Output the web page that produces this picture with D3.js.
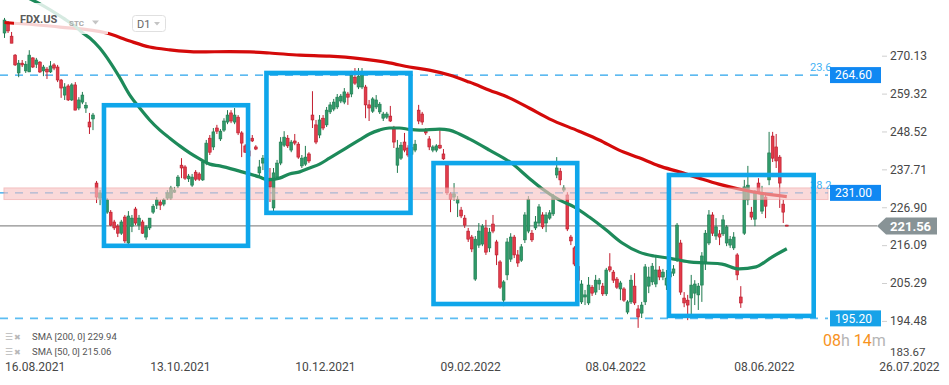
<!DOCTYPE html>
<html>
<head>
<meta charset="utf-8">
<script src="https://cdn.jsdelivr.net/npm/d3@7"></script>
<style>
  body { margin: 0; background: #fff; }
  svg { display: block; font-family: Roboto, "Noto Sans", sans-serif; }
</style>
</head>
<body>
<svg id="chart" width="949" height="385"></svg>
<script>
// daily candles FDX.US, 16.08.2021 onwards
var opens = [
  276.6, 279.4, 275.7, 270.3, 265.2, 268.0, 265.8, 265.5, 269.5, 267.7,
  268.3, 265.8, 266.3, 265.5, 267.5, 266.9, 263.2, 258.9, 261.5, 257.5,
  261.8, 255.2, 256.9, 255.2, 251.2, 252.1, 233.8, 229.5, 229.6, 225.5,
  225.5, 222.7, 221.5, 219.5, 224.1, 216.7, 221.5, 226.4, 221.8, 222.7,
  218.4, 221.0, 225.5, 227.5, 228.4, 227.8, 229.5, 229.5, 231.2, 233.0,
  238.9, 238.4, 235.0, 233.2, 236.9, 236.4, 234.7, 239.8, 246.6, 244.1,
  249.5, 246.4, 248.9, 251.2, 253.8, 251.2, 252.6, 248.1, 244.4, 243.0,
  246.6, 244.1, 236.7, 239.5, 240.9, 235.2, 226.7, 235.5, 239.5, 244.6,
  246.6, 243.2, 245.8, 244.9, 238.7, 239.2, 242.1, 253.2, 250.4, 247.5,
  252.3, 250.4, 254.1, 254.9, 255.5, 257.2, 256.9, 259.2, 259.2, 264.0,
  261.2, 261.2, 261.2, 256.1, 254.3, 255.5, 254.1, 252.3, 252.6, 252.9,
  249.2, 238.9, 240.9, 245.5, 243.8, 242.0, 243.2, 254.6, 253.5, 248.6,
  246.4, 243.2, 243.2, 244.6, 242.1, 238.9, 230.7, 229.8, 228.1, 226.1,
  223.8, 220.1, 218.4, 206.4, 216.1, 216.4, 221.0, 215.3, 222.1, 217.0,
  211.3, 200.4, 207.6, 212.1, 218.4, 213.3, 211.8, 217.6, 220.1, 219.5,
  221.0, 222.4, 224.7, 222.4, 223.8, 225.0, 236.1, 237.2, 231.8, 230.4,
  218.4, 215.3, 210.0, 199.9, 201.3, 199.6, 204.1, 202.7, 205.0, 204.4,
  202.2, 209.9, 208.4, 206.4, 203.6, 203.6, 197.0, 199.9, 204.4, 197.9,
  196.7, 199.9, 204.4, 205.6, 205.0, 209.0, 207.0, 204.7, 207.0, 208.1,
  211.8, 216.7, 201.0, 200.4, 201.0, 202.4, 201.9, 204.7, 211.3, 216.7,
  224.7, 218.7, 219.3, 219.3, 216.7, 216.1, 215.3, 213.3, 201.3, 219.5,
  229.0, 225.5, 223.5, 233.8, 225.8, 229.8, 234.7, 247.2, 244.1, 241.2,
  227.8, 221.8
];
var highs = [
  280.9, 280.0, 276.9, 270.6, 268.9, 268.9, 268.6, 271.7, 269.7, 269.5,
  268.6, 267.5, 266.9, 268.6, 268.0, 267.5, 263.5, 262.3, 262.0, 262.3,
  262.6, 258.3, 259.8, 256.9, 253.8, 253.8, 234.4, 231.8, 230.5, 229.5,
  226.1, 223.3, 222.1, 223.3, 224.7, 225.8, 224.7, 227.0, 224.7, 223.3,
  221.8, 223.8, 227.8, 229.8, 229.0, 229.5, 231.8, 233.0, 232.7, 236.1,
  240.9, 238.9, 236.4, 236.4, 237.5, 236.9, 240.4, 246.1, 247.5, 249.5,
  250.4, 249.2, 252.3, 254.6, 254.6, 255.2, 253.2, 248.6, 244.9, 245.0,
  247.5, 244.6, 240.4, 241.8, 241.5, 238.1, 238.1, 240.4, 246.9, 248.6,
  247.5, 246.1, 247.8, 245.5, 241.8, 244.4, 242.6, 260.0, 251.8, 253.2,
  253.2, 255.5, 256.9, 257.8, 259.2, 259.2, 260.9, 259.8, 265.8, 266.6,
  266.6, 266.6, 261.8, 257.5, 258.3, 258.9, 256.9, 254.1, 254.1, 255.8,
  250.1, 246.1, 245.5, 248.1, 244.6, 245.0, 246.1, 256.1, 254.1, 249.5,
  247.2, 244.6, 244.9, 248.9, 243.5, 239.5, 231.2, 233.8, 230.1, 227.0,
  224.7, 221.0, 219.0, 218.7, 222.4, 222.1, 223.3, 221.0, 224.7, 217.6,
  211.8, 206.1, 218.1, 219.5, 219.0, 214.7, 216.4, 225.5, 230.1, 220.4,
  224.4, 227.8, 225.5, 225.5, 226.1, 230.7, 241.2, 238.1, 233.2, 231.2,
  219.0, 215.8, 211.0, 206.1, 203.3, 207.0, 204.7, 207.6, 206.7, 205.3,
  209.6, 213.8, 209.0, 207.0, 205.9, 204.1, 200.4, 207.6, 208.1, 199.0,
  199.9, 210.7, 209.9, 211.0, 213.3, 210.1, 209.3, 209.0, 209.5, 210.4,
  222.4, 217.6, 202.7, 201.9, 207.6, 206.1, 205.3, 214.1, 220.4, 226.1,
  225.5, 223.8, 220.4, 224.7, 221.8, 218.7, 219.8, 213.8, 204.4, 234.7,
  238.7, 227.0, 231.8, 235.2, 233.0, 231.0, 248.4, 248.4, 247.8, 241.8,
  229.0, 221.9
];
var lows = [
  275.2, 276.6, 273.7, 267.2, 264.0, 266.9, 265.2, 265.5, 266.6, 266.6,
  265.2, 264.3, 263.5, 265.2, 266.0, 262.6, 258.1, 257.5, 257.2, 257.2,
  254.6, 254.6, 256.3, 253.8, 247.8, 248.9, 228.1, 227.5, 226.0, 225.0,
  221.5, 220.4, 218.4, 219.0, 216.7, 216.4, 219.8, 221.8, 220.4, 219.3,
  217.6, 220.4, 225.0, 226.4, 226.1, 227.2, 229.0, 229.0, 231.0, 232.4,
  235.2, 234.7, 234.1, 232.7, 234.4, 234.4, 234.4, 238.9, 241.8, 243.2,
  247.8, 245.8, 248.4, 250.6, 250.9, 250.6, 247.5, 241.2, 242.4, 240.5,
  245.5, 243.2, 235.2, 237.5, 236.4, 228.4, 225.3, 234.7, 238.9, 244.1,
  243.8, 242.6, 244.6, 240.7, 238.1, 238.7, 239.5, 249.5, 244.9, 246.6,
  248.9, 249.8, 253.5, 254.3, 254.9, 256.6, 256.3, 256.1, 258.3, 261.8,
  260.6, 260.6, 252.3, 251.5, 253.8, 254.9, 253.5, 251.5, 252.1, 251.2,
  243.8, 236.7, 240.4, 242.6, 241.2, 240.5, 242.6, 250.6, 250.4, 247.5,
  243.2, 242.6, 242.6, 243.5, 240.4, 230.4, 225.5, 228.7, 224.1, 223.8,
  221.0, 217.0, 214.1, 205.9, 215.3, 215.8, 213.3, 214.1, 219.5, 210.4,
  203.6, 198.7, 206.1, 211.3, 212.4, 209.9, 211.3, 216.7, 219.5, 217.0,
  220.4, 221.5, 220.7, 219.8, 223.3, 224.4, 235.2, 233.2, 231.2, 220.1,
  216.1, 210.1, 204.5, 199.3, 199.0, 199.0, 201.6, 201.9, 203.3, 201.6,
  201.6, 208.4, 205.3, 203.6, 200.4, 199.9, 196.4, 199.3, 199.0, 192.5,
  195.3, 199.0, 202.4, 204.7, 204.1, 206.1, 206.1, 203.3, 205.5, 207.3,
  211.3, 201.9, 198.4, 194.7, 195.3, 199.0, 197.6, 199.9, 209.0, 216.1,
  218.7, 217.6, 216.1, 218.7, 215.8, 215.3, 214.7, 206.1, 198.2, 219.0,
  227.5, 223.3, 221.5, 230.7, 225.0, 223.8, 233.2, 239.8, 238.1, 226.7,
  222.4, 221.5
];
var closes = [
  280.3, 277.2, 273.7, 267.5, 268.0, 267.5, 267.7, 270.3, 266.9, 268.9,
  265.5, 266.9, 265.5, 267.2, 266.6, 263.2, 260.9, 261.2, 257.5, 261.8,
  254.6, 257.5, 258.9, 256.0, 249.8, 253.2, 229.8, 231.0, 228.0, 229.0,
  221.8, 221.0, 219.5, 222.7, 217.3, 224.4, 223.8, 222.4, 223.8, 219.5,
  221.3, 223.8, 227.2, 229.0, 227.5, 229.0, 231.0, 232.4, 231.8, 235.5,
  238.1, 235.2, 235.8, 235.5, 234.9, 234.9, 239.8, 245.2, 242.6, 248.4,
  248.6, 248.6, 251.5, 253.2, 251.5, 253.2, 248.1, 245.2, 242.6, 241.5,
  245.8, 243.5, 238.4, 240.9, 237.0, 232.7, 236.7, 239.5, 245.5, 246.9,
  244.4, 245.5, 245.2, 241.2, 240.9, 241.2, 240.1, 251.8, 245.5, 251.8,
  249.5, 254.6, 256.1, 256.9, 258.3, 258.6, 259.8, 258.3, 264.6, 262.3,
  264.3, 265.2, 256.1, 255.2, 257.8, 257.5, 256.3, 253.5, 253.5, 251.5,
  245.5, 243.8, 244.6, 243.2, 241.8, 244.0, 244.9, 251.5, 251.2, 248.1,
  244.1, 244.1, 244.4, 243.8, 240.7, 231.0, 229.2, 230.7, 229.2, 224.4,
  221.8, 217.8, 215.0, 217.8, 220.1, 221.5, 214.1, 219.8, 220.1, 213.3,
  204.1, 205.6, 217.0, 218.4, 213.3, 211.0, 215.6, 224.7, 229.2, 217.6,
  222.7, 227.0, 221.3, 224.7, 225.3, 229.8, 238.1, 234.7, 232.4, 220.7,
  217.3, 210.7, 206.0, 205.0, 201.9, 204.7, 202.4, 206.1, 206.1, 202.2,
  209.0, 209.0, 206.1, 204.1, 205.3, 200.4, 199.9, 206.1, 199.6, 195.6,
  199.0, 209.9, 207.0, 210.1, 209.0, 207.0, 208.4, 206.7, 208.5, 209.3,
  221.8, 202.7, 199.6, 199.0, 204.7, 205.0, 204.4, 213.0, 219.5, 224.7,
  219.5, 221.3, 218.4, 223.3, 221.3, 217.8, 218.4, 207.6, 199.6, 232.7,
  233.2, 224.1, 231.0, 231.2, 230.4, 227.2, 242.4, 240.9, 240.1, 233.8,
  225.5, 221.56
];

// moving averages read at bar positions
var sma200Bars = [0, 15.7, 28.9, 35.4, 41, 46.7, 55.1, 63.6, 69.3, 74.9, 83.4, 91.8, 100.3, 108.7, 114.4, 120,
  125.7, 131.3, 137, 142.6, 148.2, 153.9, 162.3, 168, 173.6, 179.3, 184.9, 190.6, 196.2, 201.8, 207.5, 213.1, 221];
var sma200Values = [279.6, 278.3, 276.6, 274.3, 272.6, 271.8, 271.2, 271.3, 271.2, 270.9, 270.3, 270.0, 269.3, 268.1, 266.9, 266.0,
  264.6, 262.6, 260.3, 258.1, 255.2, 252.1, 248.6, 246.1, 243.2, 241.0, 238.7, 237.0, 235.2, 233.5, 232.1, 231.0, 229.94];
var sma50Bars = [4.4, 10, 16.5, 19.9, 22.1, 24.1, 26.9, 29.8, 32.6, 35.4, 38.2, 41, 43.9, 46.7, 49.5, 52.3, 55.1, 58, 60.8,
  66.4, 72.1, 74.3, 77.7, 80.5, 83.4, 86.2, 89, 91.8, 94.6, 97.5, 100.3, 103.1, 105.9, 108.7, 111.6, 114.4, 117.2,
  122.9, 125.7, 128.5, 131.3, 137, 143.2, 148.2, 151.6, 156.7, 160.9, 165.2, 170, 174.5, 179.3, 183.5, 187.7,
  193.4, 198.2, 202.7, 207.5, 212.3, 216.8, 221];
var sma50Values = [287.7, 284.9, 280.9, 278.6, 276.6, 275.2, 272.3, 268.3, 263.8, 258.9, 255.2, 251.8, 248.9, 246.6, 244.4, 242.4, 240.7, 239.2, 238.7,
  237.2, 235.5, 234.7, 235.2, 236.4, 237.0, 238.1, 239.2, 240.9, 242.6, 244.4, 246.1, 247.8, 248.9, 249.5, 249.5, 249.1, 248.9,
  249.2, 248.9, 247.8, 246.4, 243.2, 239.5, 235.2, 232.4, 229.0, 227.0, 224.1, 220.4, 216.7, 214.1, 213.0, 212.4,
  211.3, 211.0, 210.7, 209.3, 209.9, 212.7, 215.06];

var priceTicks = [270.13, 259.32, 248.52, 237.71, 226.90, 216.09, 205.29, 194.48, 183.67];
var dateBars = [0, 41, 82, 123, 164, 206, 247];
var dateLabels = ['16.08.2021', '13.10.2021', '10.12.2021', '09.02.2022', '08.04.2022', '08.06.2022', '26.07.2022'];

var levelValues = [264.60, 231.00, 195.20];
var levelFibs = ['23.6', '38.2', ''];
var bandLow = 229.1, bandHigh = 232.4;
var lastPrice = 221.56;

// boxes: [first bar, last bar, top price, bottom price]
var boxes = [
  [28.1, 68.8, 256.0, 215.9],
  [74.0, 114.7, 265.2, 225.3],
  [121.2, 161.8, 239.5, 199.3],
  [187.7, 228.6, 236.1, 195.9]
];

var legendLabels = ['SMA [200,  0] 229.94', 'SMA [50,  0] 215.06'];

(function () {
    var PLOT_RIGHT = 828, AXIS_X = 882;
    var svg = d3.select('#chart');

    var x = d3.scaleLinear().domain([0, opens.length - 1]).range([4.5, 786.8]);
    var y = d3.scaleLinear().domain([183.67, 270.13]).range([358.8, 55.7]);

    // horizontal levels
    var lv = svg.append('g');
    levelValues.forEach(function (v, k) {
        lv.append('line')
            .attr('x1', 0).attr('x2', PLOT_RIGHT)
            .attr('y1', y(v)).attr('y2', y(v))
            .style('stroke', k == 2 ? '#5cbdf2' : '#2aa4ec')
            .style('stroke-width', k == 2 ? 1.6 : 1.1)
            .style('stroke-dasharray', '8,7');
    });
    svg.append('line')
        .attr('x1', 0).attr('x2', 877)
        .attr('y1', y(lastPrice)).attr('y2', y(lastPrice))
        .style('stroke', '#8e8e8e').style('stroke-width', 1.2);

    // candles
    var candles = svg.append('g');
    opens.forEach(function (o, i) {
        var c = closes[i], up = c >= o;
        var cx = x(i);
        candles.append('line')
            .attr('x1', cx).attr('x2', cx)
            .attr('y1', y(highs[i])).attr('y2', y(lows[i]))
            .style('stroke', up ? '#1f7a4f' : '#c21d2e').style('stroke-width', 1);
        var top = y(Math.max(o, c)), h = Math.max(1, Math.abs(y(o) - y(c)));
        candles.append('rect')
            .attr('x', cx - 1.4).attr('y', top)
            .attr('width', 2.8).attr('height', h)
            .style('fill', up ? '#2f9a6a' : '#e23b4a')
            .style('stroke', up ? '#1f7a4f' : '#b81a2a').style('stroke-width', 0.6);
    });

    // moving averages
    function drawSMA(bars, vals, color) {
        var pts = bars.map(function (b, k) { return [b, vals[k]]; });
        var line = d3.line()
            .x(function (d) { return x(d[0]); })
            .y(function (d) { return y(d[1]); })
            .curve(d3.curveMonotoneX);
        svg.append('path').datum(pts).attr('d', line)
            .style('fill', 'none').style('stroke', color)
            .style('stroke-width', 3.2).style('stroke-linejoin', 'round');
    }
    drawSMA(sma200Bars, sma200Values, '#d40a0a');
    drawSMA(sma50Bars, sma50Values, '#1d8a5a');

    // 38.2 zone
    svg.append('rect')
        .attr('x', 4).attr('y', y(bandHigh))
        .attr('width', PLOT_RIGHT - 4).attr('height', y(bandLow) - y(bandHigh))
        .style('fill', '#f7c3c3').style('opacity', 0.62)
        .style('stroke', '#ee9c9c').style('stroke-width', 1);

    // fib labels
    levelValues.forEach(function (v, k) {
        if (!levelFibs[k]) return;
        svg.append('text')
            .attr('x', 810).attr('y', y(v) - 4)
            .style('font-size', '11px').style('fill', '#3fb2f4')
            .text(levelFibs[k]);
    });

    // highlight boxes
    boxes.forEach(function (b) {
        svg.append('rect')
            .attr('x', x(b[0])).attr('y', y(b[2]))
            .attr('width', x(b[1]) - x(b[0])).attr('height', y(b[3]) - y(b[2]))
            .style('fill', 'none').style('stroke', '#0fa6ea').style('stroke-width', 4.6);
    });

    // header
    svg.append('rect').attr('x', 14).attr('y', 3).attr('width', 94).attr('height', 31)
        .style('fill', '#fff').style('opacity', 0.82);
    svg.append('text').attr('x', 20).attr('y', 23)
        .style('font-size', '11px').style('font-weight', 'bold').style('fill', '#5b5b5b')
        .text('FDX.US');
    svg.append('text').attr('x', 69).attr('y', 26)
        .style('font-size', '8px').style('font-weight', 'bold').style('fill', '#a9a9a9')
        .text('STC');
    svg.append('path').attr('d', 'M92,20.5 L99,20.5 L95.5,24.5 Z').style('fill', '#c4c4c4');
    svg.append('rect').attr('x', 132.5).attr('y', 15.5).attr('width', 33).attr('height', 16).attr('rx', 3)
        .style('fill', '#fff').style('stroke', '#e0e0e0');
    svg.append('text').attr('x', 137).attr('y', 28)
        .style('font-size', '11px').style('fill', '#666').text('D1');
    svg.append('path').attr('d', 'M154,22 L160,22 L157,25.5 Z').style('fill', '#c4c4c4');

    // level value tags
    var tagColors = ['#1088f2', '#1088f2', '#17a2e8'];
    levelValues.forEach(function (v, k) {
        var yy = y(v);
        svg.append('rect').attr('x', 830).attr('y', yy - 8).attr('width', 51).attr('height', 16)
            .style('fill', tagColors[k]);
        svg.append('text').attr('x', 835).attr('y', yy + 4.3)
            .style('font-size', '12px').style('fill', '#fff')
            .text(d3.format('.2f')(v));
    });

    // price axis
    var yAxis = d3.axisRight(y).tickValues(priceTicks).tickSize(5).tickPadding(3)
        .tickFormat(d3.format('.2f'));
    var ya = svg.append('g').attr('transform', 'translate(' + AXIS_X + ',0)').call(yAxis);
    ya.select('.domain').remove();
    ya.selectAll('line').style('stroke', '#cfcfcf');
    ya.selectAll('text').style('font-size', '12px').style('fill', '#474747')
        .style('font-family', 'Roboto, sans-serif');
    // bottom price label sits just above the date row
    var lowTick = ya.selectAll('.tick').filter(function (d) { return d == 183.67; });
    lowTick.select('text').attr('y', -7).style('font-size', '11.5px');
    lowTick.select('line').remove();

    // last price tag
    var ly = y(lastPrice);
    svg.append('path')
        .attr('d', 'M877,' + ly + ' L886,' + (ly - 8.5) + ' L937,' + (ly - 8.5) + ' L937,' + (ly + 8.5) + ' L886,' + (ly + 8.5) + ' Z')
        .style('fill', '#889396');
    svg.append('text').attr('x', 890).attr('y', ly + 4.6)
        .style('font-size', '13px').style('font-weight', 'bold').style('fill', '#fff')
        .text(d3.format('.2f')(lastPrice));

    // date axis
    var xAxis = d3.axisBottom(x).tickValues(dateBars).tickSize(0).tickPadding(0)
        .tickFormat(function (d, i) { return dateLabels[i]; });
    var xa = svg.append('g').attr('transform', 'translate(0,362)').call(xAxis);
    xa.select('.domain').remove();
    xa.selectAll('text').attr('text-anchor', 'start').attr('dy', '0.75em')
        .style('font-size', '12px').style('fill', '#474747')
        .style('font-family', 'Roboto, sans-serif');

    // legend
    legendLabels.forEach(function (t, k) {
        var ly2 = 340 + k * 15;
        svg.append('text').attr('x', 5).attr('y', ly2)
            .style('font-size', '9px').style('fill', '#b8b8b8').text('\u2630');
        svg.append('text').attr('x', 14).attr('y', ly2)
            .style('font-size', '8px').style('fill', '#b8b8b8').text('\u2716');
        svg.append('text').attr('x', 32).attr('y', ly2)
            .style('font-size', '9.5px').style('fill', '#555').text(t);
    });

    // countdown
    var cd = svg.append('text').attr('x', 823).attr('y', 346).style('font-size', '16px');
    cd.append('tspan').style('fill', '#f7931e').text('08');
    cd.append('tspan').style('fill', '#b5b5b5').text('h ');
    cd.append('tspan').style('fill', '#f7931e').text('14');
    cd.append('tspan').style('fill', '#b5b5b5').text('m');
}());
</script>
</body>
</html>
